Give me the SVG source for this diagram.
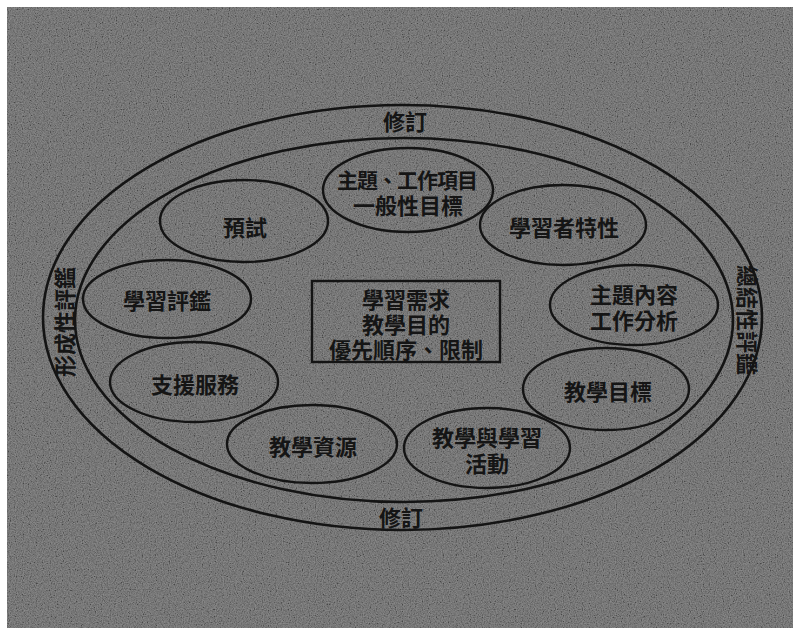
<svg xmlns="http://www.w3.org/2000/svg" width="793" height="628" viewBox="0 0 793 628">
  <style>
    .ring { fill: none; stroke: #141414; stroke-width: 2.6; }
    .node ellipse { fill: none; stroke: #141414; stroke-width: 2.4; }
    .box { fill: none; stroke: #141414; stroke-width: 2.4; }
    text { font-family: "Liberation Sans", "Noto Sans CJK TC", "Noto Sans CJK SC", sans-serif; font-size: 22px; font-weight: 700; fill: #151515; text-anchor: middle; dominant-baseline: central; }
  </style>
  <defs>
    <filter id="grain" x="0" y="0" width="100%" height="100%">
      <feTurbulence type="fractalNoise" baseFrequency="0.85" numOctaves="2" seed="3" result="n"/>
      <feColorMatrix in="n" type="matrix" values="1.2 0 0 0 -0.25  1.2 0 0 0 -0.25  1.2 0 0 0 -0.25  0 0 0 0 0.3"/>
    </filter>
  </defs>
  <rect x="0" y="0" width="793" height="628" fill="#ffffff"/>
  <rect x="7" y="7" width="786" height="621" fill="#666666"/>
  <rect x="7" y="7" width="786" height="621" filter="url(#grain)"/>

  <g id="rings">
    <ellipse class="ring" cx="402.5" cy="317.5" rx="359.5" ry="212.5"/>
    <ellipse class="ring" cx="404" cy="320" rx="329" ry="182"/>
    <text x="405" y="122">修訂</text>
    <text x="401" y="518">修訂</text>
    <text x="65" y="322" transform="rotate(-90 65 322)">形成性評鑑</text>
    <text x="746" y="320" transform="rotate(90 746 320)">總結性評鑑</text>
  </g>

  <g id="connectors"></g>

  <g id="center" class="node">
    <rect class="box" x="312" y="281" width="188" height="81"/>
    <text x="406" y="300">學習需求</text>
    <text x="406" y="325">教學目的</text>
    <text x="406" y="350">優先順序、限制</text>
  </g>

  <g id="n-topic" class="node">
    <ellipse cx="408" cy="190" rx="85" ry="42"/>
    <text x="407" y="180" style="font-size:21px" letter-spacing="-1">主題、工作項目</text>
    <text x="408" y="206">一般性目標</text>
  </g>

  <g id="n-pretest" class="node">
    <ellipse cx="244" cy="221" rx="84" ry="41"/>
    <text x="245" y="228">預試</text>
  </g>

  <g id="n-learner" class="node">
    <ellipse cx="563" cy="225" rx="83" ry="40"/>
    <text x="564" y="228">學習者特性</text>
  </g>

  <g id="n-assess" class="node">
    <ellipse cx="167" cy="299" rx="84" ry="39"/>
    <text x="167" y="301">學習評鑑</text>
  </g>

  <g id="n-content" class="node">
    <ellipse cx="634" cy="305" rx="84" ry="40"/>
    <text x="634" y="295">主題內容</text>
    <text x="634" y="321">工作分析</text>
  </g>

  <g id="n-support" class="node">
    <ellipse cx="194" cy="382" rx="84" ry="40"/>
    <text x="195" y="385">支援服務</text>
  </g>

  <g id="n-objective" class="node">
    <ellipse cx="606" cy="389" rx="83" ry="41"/>
    <text x="608" y="392">教學目標</text>
  </g>

  <g id="n-resource" class="node">
    <ellipse cx="312" cy="444" rx="85" ry="39"/>
    <text x="313" y="447">教學資源</text>
  </g>

  <g id="n-activity" class="node">
    <ellipse cx="487" cy="448" rx="83" ry="40"/>
    <text x="487" y="438">教學與學習</text>
    <text x="487" y="464">活動</text>
  </g>
</svg>
